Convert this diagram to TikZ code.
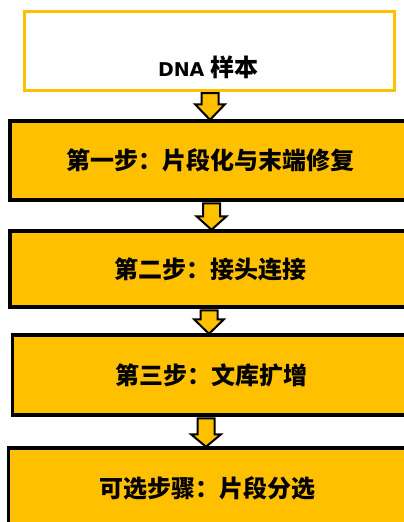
\documentclass[tikz,border=0pt]{standalone}
\usepackage{fontspec}
\setmainfont{DejaVu Sans}
\newfontfamily\cjk{Noto Sans CJK SC}
\usetikzlibrary{calc}
\definecolor{gold}{HTML}{FFC000}
\tikzset{
  startbox/.style={draw=gold, line width=3pt, fill=white, inner sep=0pt},
  stepbox/.style={draw=black, line width=3.5pt, fill=gold, inner sep=0pt,
    font=\cjk\bfseries\fontsize{24}{28}\selectfont},
  arrowstyle/.style={draw=black, line width=2pt, fill=gold, line join=miter},
}
\newcommand\flowarr[4]{%
  \draw[arrowstyle] let \p1=(#1.south), \p2=(#2.north) in
    (#3pt-8.5pt,\y1-1.5pt) -- (#3pt+8.5pt,\y1-1.5pt) -- (#3pt+8.5pt,\y2+#4pt)
    -- (#3pt+15pt,\y2+#4pt) -- (#3pt,\y2-0.5pt) -- (#3pt-15pt,\y2+#4pt)
    -- (#3pt-8.5pt,\y2+#4pt) -- cycle;}
\begin{document}
\begin{tikzpicture}[x=1pt,y=-1pt]
\useasboundingbox (0,0) rectangle (404,522);
\clip (0,0) rectangle (404,522);
\fill[white] (0,0) rectangle (404,522);
\node[startbox, minimum width=370pt, minimum height=79pt] (s0) at (209,50.5) {};
\node[font=\bfseries\fontsize{19}{23}\selectfont, inner sep=0pt] (t0) at (208.5,67) {DNA {\cjk\bfseries\fontsize{24}{28}\selectfont 样本}};
\node[stepbox, minimum width=400pt, minimum height=79pt] (s1) at (210,160.5) {第一步：片段化与末端修复};
\node[stepbox, minimum width=400pt, minimum height=76pt] (s2) at (210,269) {第二步：接头连接};
\node[stepbox, minimum width=397.5pt, minimum height=80pt] (s3) at (211.25,375) {第三步：文库扩增};
\node[stepbox, minimum width=401.5pt, minimum height=80pt] (s4) at (209.25,488) {};
\node[font=\cjk\bfseries\fontsize{24}{28}\selectfont, inner sep=0pt] (t4) at (207.5,488) {可选步骤：片段分选};
\flowarr{s0}{s1}{210}{15}
\flowarr{s1}{s2}{211.5}{13}
\flowarr{s2}{s3}{209}{14}
\flowarr{s3}{s4}{206}{12}
\end{tikzpicture}
\end{document}
